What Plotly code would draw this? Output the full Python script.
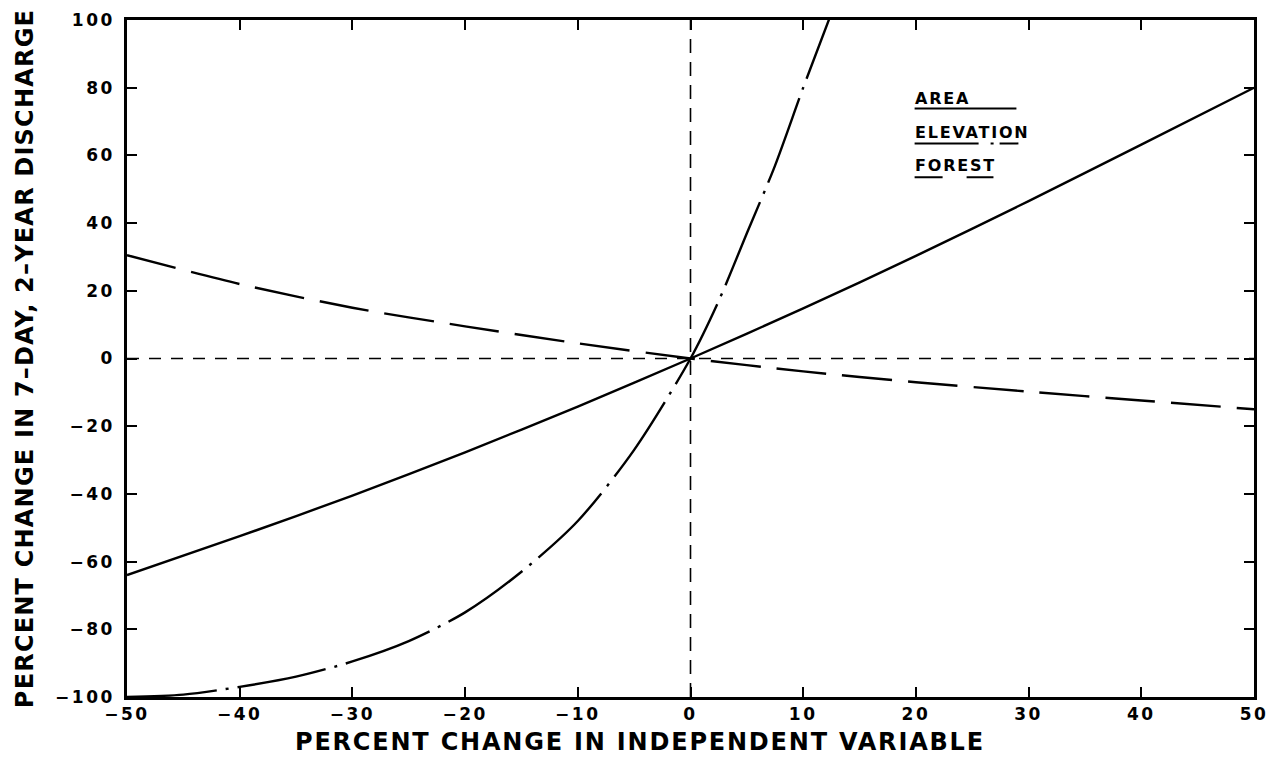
import plotly.graph_objects as go

# ---- data ----
x_area = [-50, -40, -30, -20, -10, 0, 10, 20, 30, 40, 50]
y_area = [-64, -52.5, -40.5, -27.7, -14.2, 0, 14.8, 30.3, 46.5, 63.2, 80]

x_elev = [-50, -45, -40, -35, -30, -25, -20, -15, -10, -5, 0, 2.5, 5, 7.5, 10, 12.5]
y_elev = [-100, -99.3, -97, -94, -89.5, -83.5, -75, -63, -48, -27, 0, 17, 37, 57, 80, 102]

x_forest = [-50, -40, -30, -20, -10, 0, 10, 20, 30, 40, 50]
y_forest = [30.5, 22, 15, 9.5, 4.5, 0, -3.8, -7, -9.8, -12.4, -15]

series_names = ["AREA", "ELEVATION", "FOREST"]
x_ticks = [-50, -40, -30, -20, -10, 0, 10, 20, 30, 40, 50]
y_ticks = [-100, -80, -60, -40, -20, 0, 20, 40, 60, 80, 100]

FONT = "DejaVu Sans"


def spaced(text, px):
    return f'<span style="letter-spacing:{px}px">{text}</span>'


def tick_text(vals, px):
    return [spaced(str(v).replace("-", "\u2212"), px) for v in vals]


dashes = {"AREA": "solid", "ELEVATION": "90px,9px,3px,9px", "FOREST": "50px,16px"}

fig = go.Figure()
for name, xs, ys in zip(series_names, [x_area, x_elev, x_forest], [y_area, y_elev, y_forest]):
    fig.add_trace(go.Scatter(x=xs, y=ys, mode="lines", name=name,
                             line=dict(color="black", width=2.4, dash=dashes[name],
                                       shape="spline", smoothing=0.8),
                             showlegend=False))

# dashed reference lines through the origin
fig.add_hline(y=0, line=dict(color="black", width=1.6, dash="12px,10px"), layer="below")
fig.add_vline(x=0, line=dict(color="black", width=1.6, dash="14px,9px"), layer="below")

axis_common = dict(showgrid=False, zeroline=False, showline=True, mirror="ticks",
                   linecolor="black", linewidth=2.5, ticks="inside", ticklen=10,
                   tickwidth=2, tickcolor="black",
                   tickfont=dict(family=FONT, size=17, color="black", weight="bold"))

fig.update_xaxes(range=[-50, 50], tickvals=x_ticks, ticktext=tick_text(x_ticks, 2.5),
                 **axis_common)
fig.update_yaxes(range=[-100, 100], tickvals=y_ticks, ticktext=tick_text(y_ticks, 2.5),
                 automargin=False, ticklabelstandoff=6,
                 title=dict(text=spaced("PERCENT CHANGE IN 7\u2013DAY, 2\u2013YEAR DISCHARGE", 1.2),
                            font=dict(family=FONT, size=24, color="black", weight="bold"),
                            standoff=15),
                 **axis_common)

# figure is placed with the page's 8px body margin; plot area spans px 127..1256 x 17..697
W, H = 1269, 752
L, R, T, B = 119, 21, 9, 63
PW, PH = W - L - R, H - T - B


def px2paper(px, py):
    return (px - 8 - L) / PW, (T + 8 + PH - py) / PH


# x-axis title (shifted left of centre as in the reference)
tx, ty = px2paper(641, 742)
fig.add_annotation(text=spaced("PERCENT CHANGE IN INDEPENDENT VARIABLE", 1.8),
                   xref="paper", yref="paper", x=tx, y=ty,
                   xanchor="center", yanchor="middle", showarrow=False,
                   font=dict(family=FONT, size=24, color="black", weight="bold"))

# legend: labels with underline samples of each line style
leg_rows = [(96, 106, 1018), (130, 141, 1020), (163, 175, 995)]
leg_dash = {"AREA": "solid", "ELEVATION": "64px,12px,3px,6px", "FOREST": "28px,24px"}
for name, (tyy, uy, ux1) in zip(series_names, leg_rows):
    ax, ay = px2paper(914, tyy)
    fig.add_annotation(text=spaced(name, 1.8), xref="paper", yref="paper", x=ax, y=ay,
                       xanchor="left", yanchor="middle", showarrow=False,
                       font=dict(family=FONT, size=16, color="black", weight="bold"))
    x0, y0 = px2paper(916, uy)
    x1, _ = px2paper(ux1, uy)
    fig.add_shape(type="line", xref="paper", yref="paper", x0=x0, x1=x1, y0=y0, y1=y0,
                  line=dict(color="black", width=2, dash=leg_dash[name]))

fig.update_layout(width=W, height=H, paper_bgcolor="white", plot_bgcolor="white",
                  margin=dict(l=L, r=R, t=T, b=B), showlegend=False,
                  font=dict(family=FONT, color="black"))

fig.write_html("out.html")
